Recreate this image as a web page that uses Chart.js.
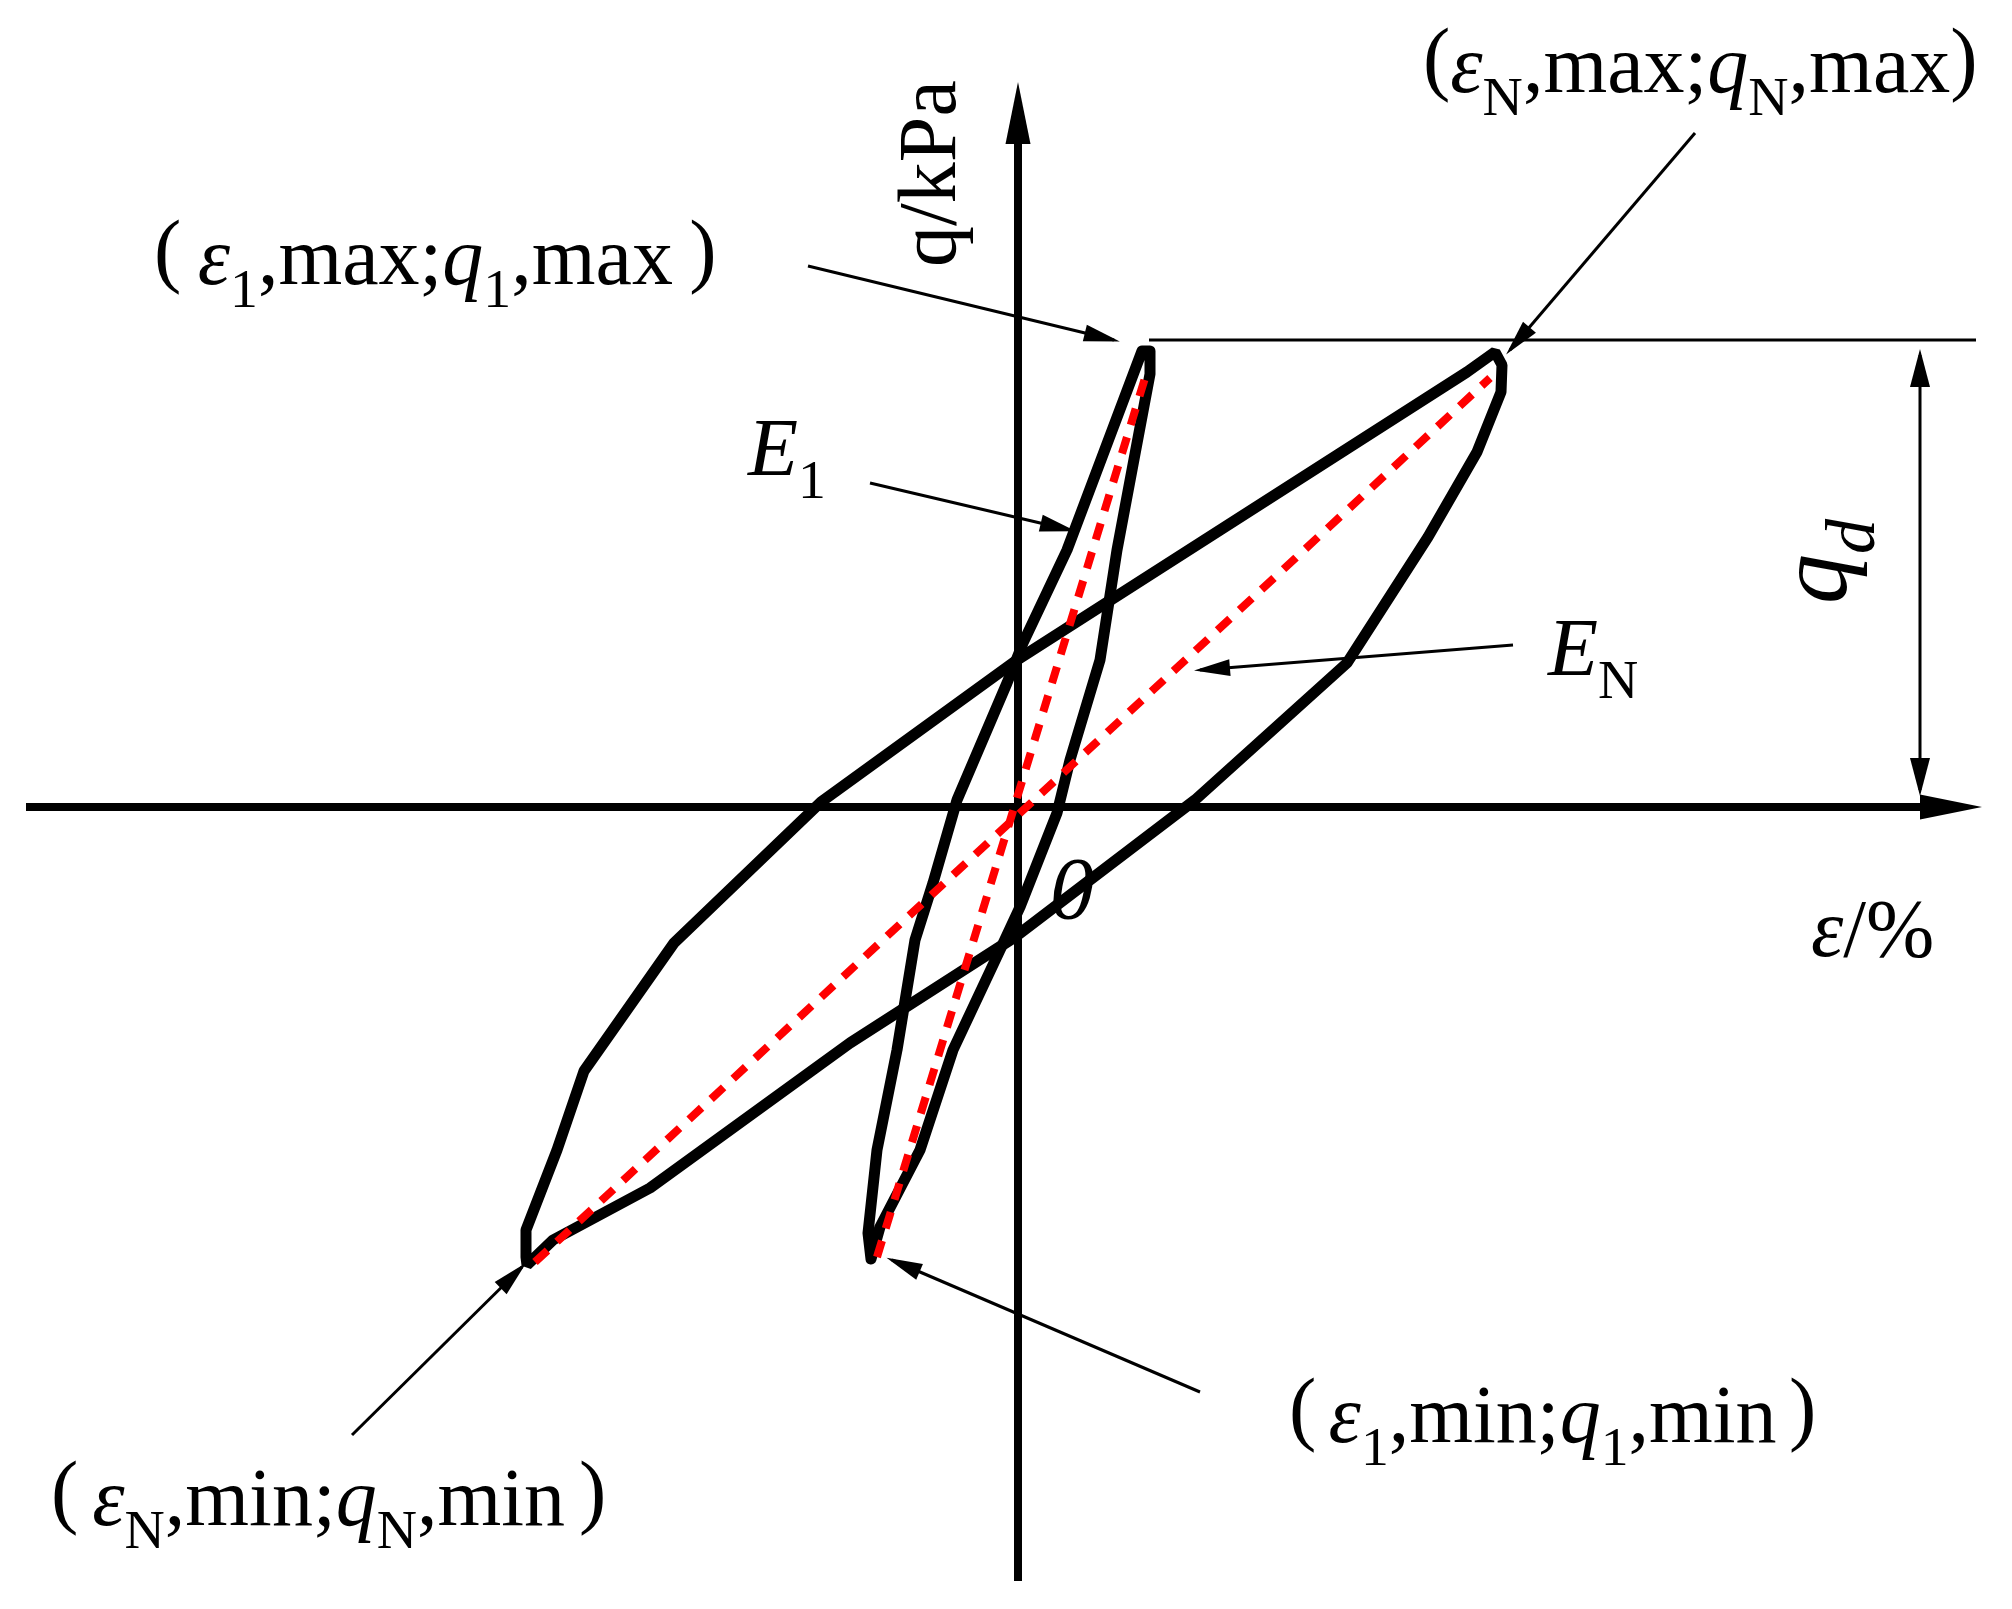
<!DOCTYPE html>
<html>
<head>
<meta charset="utf-8">
<script src="https://cdn.jsdelivr.net/npm/chart.js@4.4.1/dist/chart.umd.min.js"></script>
<style>
  html, body { margin: 0; padding: 0; background: #fff; }
  canvas { display: block; }
</style>
</head>
<body>
<canvas id="chart" width="2012" height="1609"></canvas>
<script>
// strain (eps) and deviator stress (q) in plot units, origin at axis crossing

// N-th cycle loop (loading branch then unloading branch)
const loopN_eps = [-0.01, 4.49, 4.77, 4.84, 4.83, 4.59, 4.10, 3.29, 1.77, -0.03, -1.68, -3.68, -4.65, -4.91, -4.92, -4.92, -4.61, -4.34, -3.44, -1.97, -0.01];
const loopN_q   = [1.47, 4.35, 4.55, 4.42, 4.15, 3.55, 2.70, 1.44, 0.07, -1.30, -2.36, -3.81, -4.33, -4.58, -4.50, -4.23, -3.43, -2.64, -1.36, 0.05, 1.47];

// first cycle loop
const loop1_eps = [-0.61, -0.11, 0.05, 0.49, 1.24, 1.32, 1.32, 0.99, 0.82, 0.52, 0.39, 0.02, -0.18, -0.65, -0.98, -1.38, -1.47, -1.50, -1.41, -1.21, -1.03, -0.85, -0.61];
const loop1_q   = [0.07, 1.24, 1.64, 2.57, 4.56, 4.56, 4.33, 2.57, 1.47, 0.47, -0.06, -1.00, -1.43, -2.43, -3.43, -4.20, -4.52, -4.26, -3.43, -2.43, -1.33, -0.76, 0.07];

// secant moduli E1 and EN (min point -> max point)
const secantE1_eps = [-1.41, 1.27];
const secantE1_q   = [-4.50, 4.29];
const secantEN_eps = [-4.83, 4.72];
const secantEN_q   = [-4.55, 4.29];

// axes
const axisEps_x = [-9.92, 9.44];
const axisEps_y = [0, 0];
const axisQ_x   = [0, 0];
const axisQ_y   = [-7.74, 7.05];

// q max reference line and q_d dimension
const qmaxLine_x = [1.31, 9.58];
const qmaxLine_y = [4.67, 4.67];
const qd_x = [9.02, 9.02];
const qd_y = [4.52, 0.17];

// pointer arrows, tail -> tip
const pointers = [
  [[-2.10, 5.41], [0.96, 4.67]],
  [[-1.48, 3.24], [0.52, 2.77]],
  [[4.95, 1.62], [1.82, 1.37]],
  [[6.77, 6.74], [4.92, 4.57]],
  [[-6.66, -6.28], [-4.96, -4.60]],
  [[1.82, -5.85], [-1.26, -4.53]]
];

const toPts = (xs, ys) => xs.map((x, i) => ({ x: x, y: ys[i] }));

function line(xs, ys, style) {
  return Object.assign({
    data: toPts(xs, ys),
    showLine: true,
    pointRadius: 0,
    pointHoverRadius: 0,
    tension: 0,
    fill: false,
    clip: false,
    borderColor: '#000'
  }, style);
}

const axisHead = { end: true, len: 62, w: 25, over: 20 };
const thinHead = { end: true, len: 36, w: 17, over: 6 };

const datasets = [
  line(axisEps_x, axisEps_y, { borderWidth: 8, order: 4, arrow: axisHead }),
  line(axisQ_x, axisQ_y, { borderWidth: 8, order: 4, arrow: axisHead }),
  line(loopN_eps, loopN_q, { borderWidth: 11, order: 3, borderJoinStyle: 'bevel', borderCapStyle: 'round' }),
  line(loop1_eps, loop1_q, { borderWidth: 11, order: 3, borderJoinStyle: 'round', borderCapStyle: 'round' }),
  line(secantE1_eps, secantE1_q, { borderColor: '#ff0000', borderWidth: 8, borderDash: [17, 13], borderCapStyle: 'butt', order: 2 }),
  line(secantEN_eps, secantEN_q, { borderColor: '#ff0000', borderWidth: 8, borderDash: [17, 13], borderCapStyle: 'butt', order: 2 }),
  line(qmaxLine_x, qmaxLine_y, { borderWidth: 3, order: 1 }),
  line(qd_x, qd_y, { borderWidth: 3, order: 1, arrow: { start: true, end: true, len: 38, w: 20, over: 6 } })
];
pointers.forEach((p) => {
  datasets.push(line([p[0][0], p[1][0]], [p[0][1], p[1][1]], { borderWidth: 3, order: 0, arrow: thinHead }));
});

// text labels: anchor (data units) is the left end of the baseline
const labels = [
  { at: [-8.64, 5.23], size: 82, gap: 0.2, segs: [['(', 'p'], ['ε', 'i'], ['1', 's'], [',max;', ''], ['q', 'i'], ['1', 's'], [',max', ''], [')', 'p']] },
  { at: [4.05, 7.15], size: 82, gap: 0, segs: [['(', 'p'], ['ε', 'i'], ['N', 's'], [',max;', ''], ['q', 'i'], ['N', 's'], [',max', ''], [')', 'p']] },
  { at: [2.71, -6.35], size: 82, gap: 0.15, segs: [['(', 'p'], ['ε', 'i'], ['1', 's'], [',min;', ''], ['q', 'i'], ['1', 's'], [',min', ''], [')', 'p']] },
  { at: [-9.67, -7.18], size: 82, gap: 0.17, segs: [['(', 'p'], ['ε', 'i'], ['N', 's'], [',min;', ''], ['q', 'i'], ['N', 's'], [',min', ''], [')', 'p']] },
  { at: [-2.70, 3.32], size: 82, segs: [['E', 'i'], ['1', 's']] },
  { at: [5.30, 1.32], size: 82, segs: [['E', 'i'], ['N', 's']] },
  { at: [7.93, -1.49], size: 82, segs: [['ε', 'i'], ['/%', '']] },
  { at: [0.32, -1.11], size: 88, segs: [['0', 'i']] },
  { at: [-0.63, 5.40], size: 82, rot: -Math.PI / 2, segs: [['q/kPa', '']] },
  { at: [8.28, 2.03], size: 100, rot: -Math.PI / 2, subScale: 0.7, segs: [['q', 'i'], ['d', 'is']] }
];

function drawHead(ctx, from, to, a) {
  const ang = Math.atan2(to.y - from.y, to.x - from.x);
  ctx.save();
  ctx.translate(to.x + Math.cos(ang) * a.over, to.y + Math.sin(ang) * a.over);
  ctx.rotate(ang);
  ctx.beginPath();
  ctx.moveTo(0, 0);
  ctx.lineTo(-a.len, a.w / 2);
  ctx.lineTo(-a.len, -a.w / 2);
  ctx.closePath();
  ctx.fillStyle = '#000';
  ctx.fill();
  ctx.restore();
}

function drawRich(ctx, lab, px, py) {
  ctx.save();
  ctx.translate(px, py);
  if (lab.rot) ctx.rotate(lab.rot);
  ctx.fillStyle = '#000';
  ctx.textBaseline = 'alphabetic';
  const gap = (lab.gap || 0) * lab.size;
  let cx = 0;
  lab.segs.forEach(([t, st], k) => {
    const sub = st.includes('s');
    const fs = sub ? lab.size * (lab.subScale || 0.68) : lab.size;
    ctx.font = (st.includes('i') ? 'italic ' : '') + fs + 'px "Liberation Serif", "Times New Roman", serif';
    let dy = sub ? lab.size * 0.28 : 0;
    if (st === 'p') dy = -lab.size * 0.09;
    // fullwidth-style brackets get extra room on their inner side
    if (st === 'p' && k > 0) cx += gap;
    ctx.fillText(t, cx, dy);
    cx += ctx.measureText(t).width;
    if (st === 'p' && k === 0) cx += gap;
  });
  ctx.restore();
}

const decorPlugin = {
  id: 'decor',
  afterDatasetsDraw(chart) {
    const ctx = chart.ctx;
    chart.data.datasets.forEach((ds, i) => {
      if (!ds.arrow) return;
      const pts = chart.getDatasetMeta(i).data;
      const n = pts.length;
      if (ds.arrow.end) drawHead(ctx, pts[n - 2], pts[n - 1], ds.arrow);
      if (ds.arrow.start) drawHead(ctx, pts[1], pts[0], ds.arrow);
    });
    const xs = chart.scales.x, ys = chart.scales.y;
    labels.forEach((lab) => {
      drawRich(ctx, lab, xs.getPixelForValue(lab.at[0]), ys.getPixelForValue(lab.at[1]));
    });
  }
};

new Chart(document.getElementById('chart').getContext('2d'), {
  type: 'scatter',
  data: { datasets: datasets },
  options: {
    responsive: false,
    devicePixelRatio: 1,
    animation: false,
    events: [],
    layout: { padding: 0 },
    plugins: { legend: { display: false }, tooltip: { enabled: false } },
    scales: {
      x: { type: 'linear', display: false, min: -10.18, max: 9.94 },
      y: { type: 'linear', display: false, min: -8.02, max: 8.07 }
    }
  },
  plugins: [decorPlugin]
});
</script>
</body>
</html>
